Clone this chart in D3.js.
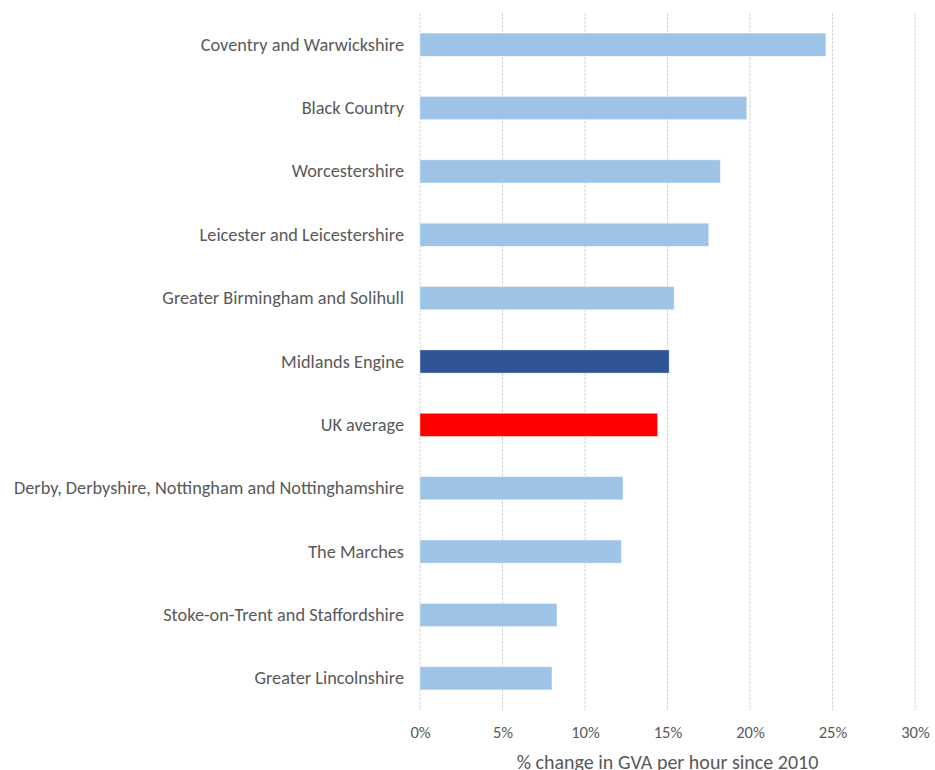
<!DOCTYPE html>
<html>
<head>
<meta charset="utf-8">
<script src="https://cdn.jsdelivr.net/npm/d3@7"></script>
<style>
  html, body { margin: 0; padding: 0; background: #fff; }
  svg text { font-family: Carlito, Calibri, Lato, "Open Sans", "Liberation Sans", sans-serif; fill: #595959; }
</style>
</head>
<body>
<svg id="chart" width="935" height="770"></svg>
<script>
// Regions, top to bottom
const regions = [
  "Coventry and Warwickshire",
  "Black Country",
  "Worcestershire",
  "Leicester and Leicestershire",
  "Greater Birmingham and Solihull",
  "Midlands Engine",
  "UK average",
  "Derby, Derbyshire, Nottingham and Nottinghamshire",
  "The Marches",
  "Stoke-on-Trent and Staffordshire",
  "Greater Lincolnshire"
];
// % change in GVA per hour since 2010
const growth = [24.6, 19.8, 18.2, 17.5, 15.4, 15.1, 14.4, 12.3, 12.2, 8.3, 8.0];
const xTicks = [0, 5, 10, 15, 20, 25, 30];
const axisTitle = "% change in GVA per hour since 2010";

const colourFor = name =>
  name === "Midlands Engine" ? "#2f5597" :
  name === "UK average" ? "#ff0000" : "#9dc3e6";

const svg = d3.select("#chart");
const plot = { left: 420, right: 915, top: 13, bottom: 710 };

const x = d3.scaleLinear().domain([0, 30]).range([plot.left, plot.right]);
const y = d3.scaleBand().domain(regions).range([plot.top, plot.bottom])
  .paddingInner(0.635).paddingOuter(0.3175);

// vertical gridlines
svg.append("g").selectAll("line").data(xTicks).join("line")
  .attr("x1", d => x(d)).attr("x2", d => x(d))
  .attr("y1", plot.top).attr("y2", plot.bottom)
  .attr("stroke", "#d6d6d6").attr("stroke-width", 1)
  .attr("stroke-dasharray", "3,1");

// bars
svg.append("g").selectAll("rect").data(regions).join("rect")
  .attr("x", x(0))
  .attr("y", d => y(d))
  .attr("width", (d, i) => x(growth[i]) - x(0))
  .attr("height", y.bandwidth())
  .attr("fill", d => colourFor(d))
  .attr("stroke", "#ffffff").attr("stroke-opacity", 0.5).attr("stroke-width", 0.75);

// category labels
const yAxis = d3.axisLeft(y).tickSize(0).tickPadding(16);
const gy = svg.append("g").attr("transform", `translate(${plot.left},0)`).call(yAxis);
gy.select(".domain").remove();
gy.selectAll("text").style("font-size", "18.3px").attr("fill", "#595959").attr("dy", "0.33em");

// percentage axis
const xAxis = d3.axisBottom(x).tickValues(xTicks).tickFormat(d => d + "%").tickSize(0).tickPadding(16);
const gx = svg.append("g").attr("transform", `translate(0,${plot.bottom})`).call(xAxis);
gx.select(".domain").remove();
gx.selectAll("text").style("font-size", "16.5px").attr("fill", "#595959");

// axis title
svg.append("text")
  .attr("x", (plot.left + plot.right) / 2)
  .attr("y", 769)
  .attr("text-anchor", "middle")
  .style("font-size", "20px")
  .text(axisTitle);
</script>
</body>
</html>
